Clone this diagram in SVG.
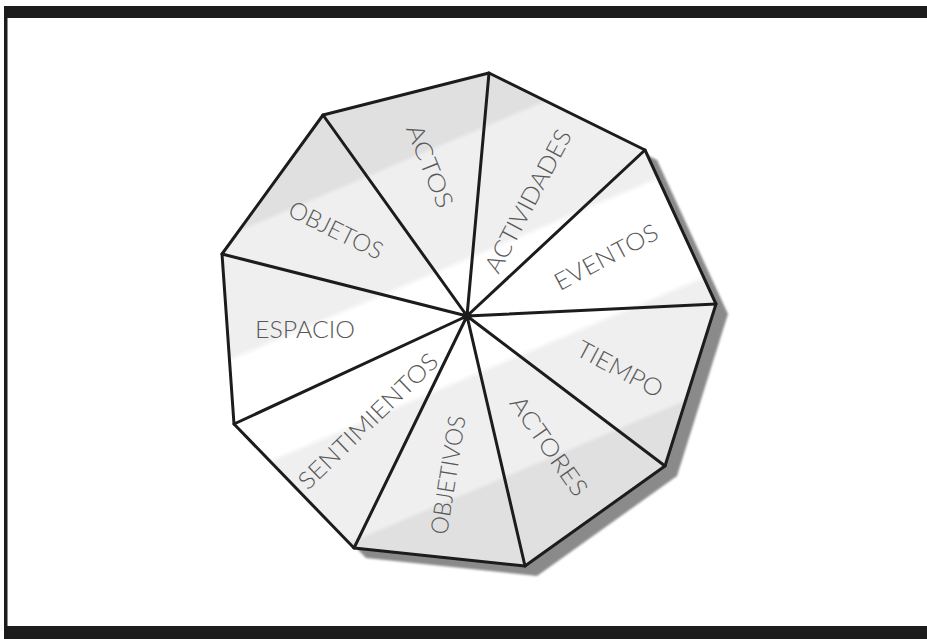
<svg xmlns="http://www.w3.org/2000/svg" width="927" height="639" viewBox="0 0 927 639">
<defs>
<linearGradient id="bands" gradientUnits="userSpaceOnUse" x1="368" y1="83" x2="571" y2="562">
<stop offset="0" stop-color="#e0e0e0"/>
<stop offset="0.160" stop-color="#e0e0e0"/>
<stop offset="0.170" stop-color="#efefef"/>
<stop offset="0.380" stop-color="#efefef"/>
<stop offset="0.392" stop-color="#ffffff"/>
<stop offset="0.590" stop-color="#ffffff"/>
<stop offset="0.602" stop-color="#efefef"/>
<stop offset="0.795" stop-color="#efefef"/>
<stop offset="0.805" stop-color="#e0e0e0"/>
<stop offset="1" stop-color="#e0e0e0"/>
</linearGradient>
<filter id="soft" x="-10%" y="-10%" width="120%" height="120%">
<feGaussianBlur stdDeviation="1.2"/>
</filter>
</defs>
<style>
.sector{fill:url(#bands);stroke:none}
.lbl{font-family:Lato,"Open Sans","Liberation Sans",sans-serif;font-weight:300;font-size:24px;fill:#585858;text-anchor:middle}
.edge{stroke:#1c1c1c;stroke-width:3;fill:none;stroke-linejoin:round;stroke-linecap:round}
.frame{fill:#1c1c1c}
</style>
<rect width="927" height="639" fill="#ffffff"/>
<g id="frame">
<rect class="frame" x="4" y="6" width="923" height="12"/>
<rect class="frame" x="4" y="6" width="3.5" height="633"/>
<rect class="frame" x="4" y="626" width="923" height="13"/>
</g>
<polygon id="shadow" points="501,83 657,160 728,314 677,476 537,576 366,558 246,434 234,264 335,125" fill="#8a8a8a" filter="url(#soft)"/>
<g id="node-actos"><polygon class="sector" points="467,316 323,115 489,73"/><text class="lbl" transform="translate(430,166) rotate(68)" dy="8.5" textLength="88" lengthAdjust="spacingAndGlyphs">ACTOS</text></g>
<g id="node-actividades"><polygon class="sector" points="467,316 489,73 645,150"/><text class="lbl" transform="translate(528,201) rotate(-62)" dy="8.5" textLength="158" lengthAdjust="spacingAndGlyphs">ACTIVIDADES</text></g>
<g id="node-eventos"><polygon class="sector" points="467,316 645,150 716,304"/><text class="lbl" transform="translate(606,257) rotate(-28)" dy="8.5" textLength="114" lengthAdjust="spacingAndGlyphs">EVENTOS</text></g>
<g id="node-tiempo"><polygon class="sector" points="467,316 716,304 665,466"/><text class="lbl" transform="translate(620,369) rotate(28)" dy="8.5" textLength="94" lengthAdjust="spacingAndGlyphs">TIEMPO</text></g>
<g id="node-actores"><polygon class="sector" points="467,316 665,466 525,566"/><text class="lbl" transform="translate(549,446) rotate(55)" dy="8.5" textLength="116" lengthAdjust="spacingAndGlyphs">ACTORES</text></g>
<g id="node-objetivos"><polygon class="sector" points="467,316 525,566 354,548"/><text class="lbl" transform="translate(448,475) rotate(-81)" dy="8.5" textLength="120" lengthAdjust="spacingAndGlyphs">OBJETIVOS</text></g>
<g id="node-sentimientos"><polygon class="sector" points="467,316 354,548 234,424"/><text class="lbl" transform="translate(368,421) rotate(-44)" dy="8.5" textLength="184" lengthAdjust="spacingAndGlyphs">SENTIMIENTOS</text></g>
<g id="node-espacio"><polygon class="sector" points="467,316 234,424 222,254"/><text class="lbl" transform="translate(305,329)" dy="8.5" textLength="100" lengthAdjust="spacingAndGlyphs">ESPACIO</text></g>
<g id="node-objetos"><polygon class="sector" points="467,316 222,254 323,115"/><text class="lbl" transform="translate(336,230) rotate(26)" dy="8.5" textLength="102" lengthAdjust="spacingAndGlyphs">OBJETOS</text></g>
<g id="connectors">
<polygon class="edge" points="489,73 645,150 716,304 665,466 525,566 354,548 234,424 222,254 323,115"/>
<path class="edge" d="M467,316L489,73M467,316L645,150M467,316L716,304M467,316L665,466M467,316L525,566M467,316L354,548M467,316L234,424M467,316L222,254M467,316L323,115"/>
<circle cx="467" cy="316" r="4.5" fill="#1c1c1c"/>
</g>
</svg>
